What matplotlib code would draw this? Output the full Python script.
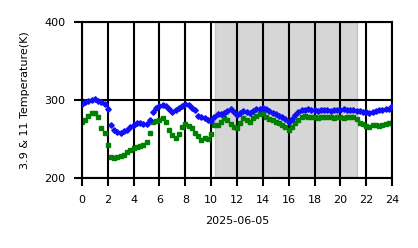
import numpy as np
import matplotlib
matplotlib.use('Agg')
import matplotlib.pyplot as plt

# hours, sampled every 15 minutes
hours = np.arange(97) / 4.0

temp_39 = [295, 297, 299, 300, 301, 299, 298, 295,
           288, 268, 262, 259, 258, 260, 262, 265,
           268, 270, 270, 269, 269, 275, 285, 290,
           293, 294, 292, 288, 285, 287, 290, 293,
           295, 294, 290, 287, 280, 278, 277, 275,
           273, 278, 282, 282, 283, 286, 288, 285,
           281, 284, 286, 285, 284, 286, 288, 289,
           290, 288, 286, 284, 282, 280, 278, 276,
           272, 276, 281, 285, 287, 287, 288, 287,
           287, 286, 287, 287, 287, 286, 287, 287,
           287, 288, 287, 287, 287, 286, 286, 285,
           285, 284, 285, 286, 287, 287, 288, 289,
           292]

temp_11 = [272, 274, 280, 283, 283, 278, 264, 258,
           242, 227, 226, 227, 228, 230, 233, 236,
           238, 240, 241, 243, 246, 258, 272, 273,
           274, 277, 272, 262, 255, 251, 256, 265,
           269, 267, 264, 258, 254, 249, 251, 250,
           256, 268, 268, 272, 277, 275, 269, 266,
           264, 270, 277, 275, 272, 277, 280, 282,
           283, 278, 276, 274, 272, 270, 268, 265,
           262, 265, 270, 275, 278, 279, 278, 278,
           278, 277, 278, 278, 278, 278, 277, 278,
           278, 277, 278, 278, 278, 276, 271, 269,
           267, 266, 268, 268, 267, 268, 269, 270,
           270]

shade_start, shade_end = 10.3, 21.3

fig = plt.figure(figsize=(4.18, 2.48), dpi=100)
ax = fig.add_axes([0.196, 0.282, 0.742, 0.629])

ax.axvspan(shade_start, shade_end, facecolor='#d6d6d6', edgecolor='#c4c4c4', zorder=0)
ax.grid(True, color='black', linewidth=1.5, zorder=1)
ax.set_axisbelow(True)

ax.plot(hours, temp_39, linestyle='none', marker='D', markersize=2.8,
        color='#1010f8', zorder=3)
ax.plot(hours, temp_11, linestyle='none', marker='s', markersize=2.3,
        color='green', zorder=2)

ax.set_xlim(0, 24)
ax.set_ylim(200, 400)
ax.set_xticks(np.arange(0, 25, 2))
ax.set_yticks([200, 300, 400])
ax.tick_params(labelsize=8, width=1.5, length=6, pad=6)
for s in ax.spines.values():
    s.set_linewidth(1.5)
ax.set_xlabel('2025-06-05', fontsize=8, labelpad=8)
ax.set_ylabel('3.9 & 11 Temperature(K)', fontsize=8, labelpad=10)

fig.savefig('out.png', dpi=100)
